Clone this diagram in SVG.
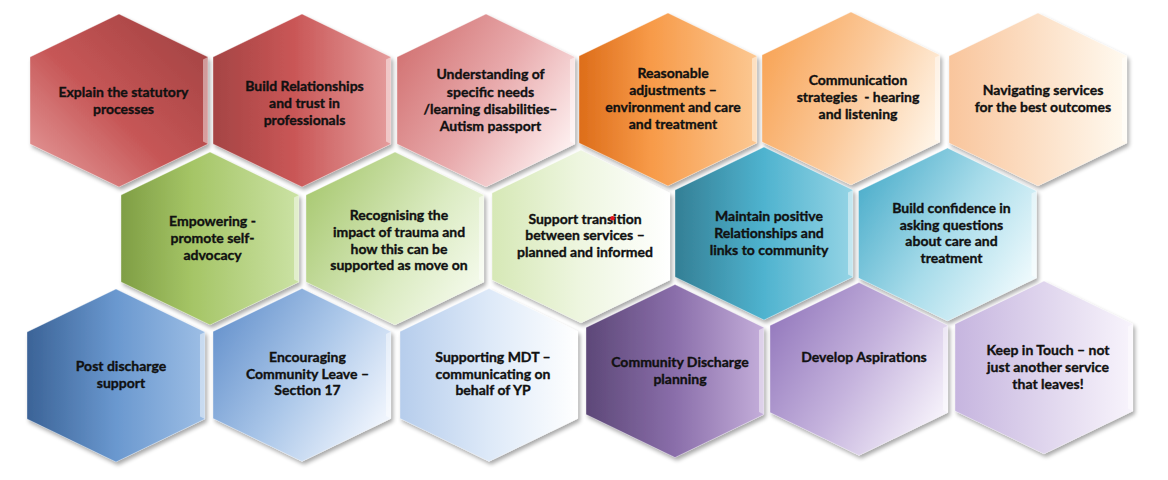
<svg xmlns="http://www.w3.org/2000/svg" xmlns:xlink="http://www.w3.org/1999/xlink" width="1168" height="480" viewBox="0 0 1168 480">
<defs>
<style>
.t{font-family:Lato,"Liberation Sans",sans-serif;font-weight:bold;font-size:14px;fill:#111;stroke:#111;stroke-width:0.35;text-anchor:middle}
.hex{filter:url(#sh)}
.bev{fill:#ffffff;opacity:0.45}
.edge{fill:none;stroke:#ffffff;stroke-opacity:0.35;stroke-width:1}
</style>
<filter id="sh" x="-10%" y="-10%" width="125%" height="125%">
<feGaussianBlur in="SourceAlpha" stdDeviation="2"/>
<feOffset dx="2" dy="3" result="b"/>
<feComponentTransfer><feFuncA type="linear" slope="0.35"/></feComponentTransfer>
<feMerge><feMergeNode/><feMergeNode in="SourceGraphic"/></feMerge>
</filter>
<path id="hx" d="M0,-86.5 L89,-43.5 L89,43.5 L0,86.5 L-89,43.5 L-89,-43.5 Z"/>
<path id="bv" d="M89,-43.5 L89,43.5 L84,41 L84,-41 Z"/>
<linearGradient id="g1" x1="0" y1="1" x2="1" y2="0"><stop offset="0" stop-color="#e8a2a2"/><stop offset="0.45" stop-color="#c65656"/><stop offset="1" stop-color="#9e4040"/></linearGradient>
<linearGradient id="g2" x1="0" y1="0" x2="1" y2="0"><stop offset="0" stop-color="#a54444"/><stop offset="0.45" stop-color="#c95656"/><stop offset="1" stop-color="#e49c9c"/></linearGradient>
<linearGradient id="g3" x1="0" y1="0.2" x2="1" y2="0.8"><stop offset="0" stop-color="#d27272"/><stop offset="0.5" stop-color="#e8aaac"/><stop offset="1" stop-color="#fff4f4"/></linearGradient>
<linearGradient id="g4" x1="0" y1="0" x2="1" y2="0"><stop offset="0" stop-color="#dd6d1a"/><stop offset="0.4" stop-color="#f79a48"/><stop offset="1" stop-color="#fcc892"/></linearGradient>
<linearGradient id="g5" x1="0" y1="0.3" x2="1" y2="0.7"><stop offset="0" stop-color="#f8a65a"/><stop offset="0.5" stop-color="#fbca9c"/><stop offset="1" stop-color="#fff5e8"/></linearGradient>
<linearGradient id="g6" x1="0" y1="0" x2="1" y2="0"><stop offset="0" stop-color="#f9c59c"/><stop offset="1" stop-color="#fffaf0"/></linearGradient>
<linearGradient id="g7" x1="0" y1="0" x2="1" y2="0"><stop offset="0" stop-color="#7f9e45"/><stop offset="0.4" stop-color="#a5c566"/><stop offset="1" stop-color="#cbe2a4"/></linearGradient>
<linearGradient id="g8" x1="0" y1="0.2" x2="1" y2="0.8"><stop offset="0" stop-color="#a9c972"/><stop offset="0.6" stop-color="#dbebc2"/><stop offset="1" stop-color="#f6fbee"/></linearGradient>
<linearGradient id="g9" x1="0" y1="0" x2="1" y2="0"><stop offset="0" stop-color="#d6e8b6"/><stop offset="0.5" stop-color="#eef6e0"/><stop offset="1" stop-color="#ffffff"/></linearGradient>
<linearGradient id="g10" x1="0" y1="0" x2="1" y2="0"><stop offset="0" stop-color="#347f95"/><stop offset="0.5" stop-color="#4fb3cf"/><stop offset="1" stop-color="#95d4e5"/></linearGradient>
<linearGradient id="g11" x1="0" y1="0.2" x2="1" y2="0.8"><stop offset="0" stop-color="#4daecb"/><stop offset="0.5" stop-color="#a8dcea"/><stop offset="1" stop-color="#f4fcfe"/></linearGradient>
<linearGradient id="g12" x1="0" y1="0" x2="1" y2="0"><stop offset="0" stop-color="#3b6397"/><stop offset="0.5" stop-color="#6a98cf"/><stop offset="1" stop-color="#9dbee5"/></linearGradient>
<linearGradient id="g13" x1="0" y1="0.2" x2="1" y2="0.8"><stop offset="0" stop-color="#6793cd"/><stop offset="0.5" stop-color="#abc7e9"/><stop offset="1" stop-color="#f6f9ff"/></linearGradient>
<linearGradient id="g14" x1="0" y1="0" x2="1" y2="0"><stop offset="0" stop-color="#b6cdec"/><stop offset="0.5" stop-color="#dde9f8"/><stop offset="1" stop-color="#ffffff"/></linearGradient>
<linearGradient id="g15" x1="0" y1="0" x2="1" y2="0"><stop offset="0" stop-color="#5d4878"/><stop offset="0.5" stop-color="#8a6eaa"/><stop offset="1" stop-color="#c4aeda"/></linearGradient>
<linearGradient id="g16" x1="0" y1="0.2" x2="1" y2="0.8"><stop offset="0" stop-color="#9479bd"/><stop offset="0.5" stop-color="#c5b3dd"/><stop offset="1" stop-color="#faf7fd"/></linearGradient>
<linearGradient id="g17" x1="0" y1="0" x2="1" y2="0"><stop offset="0" stop-color="#c6b5df"/><stop offset="0.6" stop-color="#e4dbf0"/><stop offset="1" stop-color="#f8f4fc"/></linearGradient>
</defs>
<rect width="1168" height="480" fill="#ffffff"/>

<g id="n1"><g transform="translate(119,100.5)"><use class="hex" xlink:href="#hx" fill="url(#g1)"/><use xlink:href="#hx" class="edge"/><use xlink:href="#bv" class="bev"/></g>
<text class="t"><tspan x="123.5" y="97">Explain the statutory</tspan><tspan x="123.5" y="114">processes</tspan></text></g>

<g id="n2"><g transform="translate(302,100.5)"><use class="hex" xlink:href="#hx" fill="url(#g2)"/><use xlink:href="#hx" class="edge"/><use xlink:href="#bv" class="bev"/></g>
<text class="t"><tspan x="304.5" y="91">Build Relationships</tspan><tspan x="304.5" y="108">and trust in</tspan><tspan x="304.5" y="125">professionals</tspan></text></g>

<g id="n3"><g transform="translate(486,100.5)"><use class="hex" xlink:href="#hx" fill="url(#g3)"/><use xlink:href="#hx" class="edge"/><use xlink:href="#bv" class="bev"/></g>
<text class="t"><tspan x="490.5" y="79">Understanding of</tspan><tspan x="490.5" y="96.5">specific needs</tspan><tspan x="490.5" y="113.5">/learning disabilities–</tspan><tspan x="490.5" y="130.5">Autism passport</tspan></text></g>

<g id="n4"><g transform="translate(668,99.5)"><use class="hex" xlink:href="#hx" fill="url(#g4)"/><use xlink:href="#hx" class="edge"/><use xlink:href="#bv" class="bev"/></g>
<text class="t"><tspan x="673" y="77.5">Reasonable</tspan><tspan x="673" y="94.5">adjustments –</tspan><tspan x="673" y="111.5">environment and care</tspan><tspan x="673" y="128.5">and treatment</tspan></text></g>

<g id="n5"><g transform="translate(851,98.5)"><use class="hex" xlink:href="#hx" fill="url(#g5)"/><use xlink:href="#hx" class="edge"/><use xlink:href="#bv" class="bev"/></g>
<text class="t" xml:space="preserve"><tspan x="858" y="85">Communication</tspan><tspan x="858" y="101.5">strategies  - hearing</tspan><tspan x="858" y="118.5">and listening</tspan></text></g>

<g id="n6"><g transform="translate(1038,99.5)"><use class="hex" xlink:href="#hx" fill="url(#g6)"/><use xlink:href="#hx" class="edge"/><use xlink:href="#bv" class="bev"/></g>
<text class="t"><tspan x="1043" y="95">Navigating services</tspan><tspan x="1043" y="111.5">for the best outcomes</tspan></text></g>

<g id="n7"><g transform="translate(210,238.5)"><use class="hex" xlink:href="#hx" fill="url(#g7)"/><use xlink:href="#hx" class="edge"/><use xlink:href="#bv" class="bev"/></g>
<text class="t"><tspan x="212.5" y="225.5">Empowering -</tspan><tspan x="212.5" y="242.5">promote self-</tspan><tspan x="212.5" y="259.5">advocacy</tspan></text></g>

<g id="n8"><g transform="translate(395,238.5)"><use class="hex" xlink:href="#hx" fill="url(#g8)"/><use xlink:href="#hx" class="edge"/><use xlink:href="#bv" class="bev"/></g>
<text class="t"><tspan x="399" y="220">Recognising the</tspan><tspan x="399" y="236.5">impact of trauma and</tspan><tspan x="399" y="253.5">how this can be</tspan><tspan x="399" y="270">supported as move on</tspan></text></g>

<g id="n9"><g transform="translate(581,236.5)"><use class="hex" xlink:href="#hx" fill="url(#g9)"/><use xlink:href="#hx" class="edge"/><use xlink:href="#bv" class="bev"/></g>
<text class="t"><tspan x="585" y="223.5">Support transition</tspan><tspan x="585" y="240">between services –</tspan><tspan x="585" y="256.5">planned and informed</tspan></text>
<circle cx="612.5" cy="218.3" r="2.2" fill="#e8141c"/></g>

<g id="n10"><g transform="translate(764,233.5)"><use class="hex" xlink:href="#hx" fill="url(#g10)"/><use xlink:href="#hx" class="edge"/><use xlink:href="#bv" class="bev"/></g>
<text class="t"><tspan x="769" y="221">Maintain positive</tspan><tspan x="769" y="237.5">Relationships and</tspan><tspan x="769" y="254.5">links to community</tspan></text></g>

<g id="n11"><g transform="translate(947.5,234.5)"><use class="hex" xlink:href="#hx" fill="url(#g11)"/><use xlink:href="#hx" class="edge"/><use xlink:href="#bv" class="bev"/></g>
<text class="t"><tspan x="951.5" y="212.5">Build confidence in</tspan><tspan x="951.5" y="229.5">asking questions</tspan><tspan x="951.5" y="246">about care and</tspan><tspan x="951.5" y="262.5">treatment</tspan></text></g>

<g id="n12"><g transform="translate(116,375.5)"><use class="hex" xlink:href="#hx" fill="url(#g12)"/><use xlink:href="#hx" class="edge"/><use xlink:href="#bv" class="bev"/></g>
<text class="t"><tspan x="121" y="370.5">Post discharge</tspan><tspan x="121" y="387.5">support</tspan></text></g>

<g id="n13"><g transform="translate(302,375)"><use class="hex" xlink:href="#hx" fill="url(#g13)"/><use xlink:href="#hx" class="edge"/><use xlink:href="#bv" class="bev"/></g>
<text class="t"><tspan x="307.5" y="361.5">Encouraging</tspan><tspan x="307.5" y="378.5">Community Leave –</tspan><tspan x="307.5" y="395">Section 17</tspan></text></g>

<g id="n14"><g transform="translate(489,375)"><use class="hex" xlink:href="#hx" fill="url(#g14)"/><use xlink:href="#hx" class="edge"/><use xlink:href="#bv" class="bev"/></g>
<text class="t"><tspan x="493" y="361.5">Supporting MDT –</tspan><tspan x="493" y="378.5">communicating on</tspan><tspan x="493" y="395">behalf of YP</tspan></text></g>

<g id="n15"><g transform="translate(675,371)"><use class="hex" xlink:href="#hx" fill="url(#g15)"/><use xlink:href="#hx" class="edge"/><use xlink:href="#bv" class="bev"/></g>
<text class="t"><tspan x="680" y="366.5">Community Discharge</tspan><tspan x="680" y="383.5">planning</tspan></text></g>

<g id="n16"><g transform="translate(859,369)"><use class="hex" xlink:href="#hx" fill="url(#g16)"/><use xlink:href="#hx" class="edge"/><use xlink:href="#bv" class="bev"/></g>
<text class="t"><tspan x="864" y="361.5">Develop Aspirations</tspan></text></g>

<g id="n17"><g transform="translate(1044,367.5)"><use class="hex" xlink:href="#hx" fill="url(#g17)"/><use xlink:href="#hx" class="edge"/><use xlink:href="#bv" class="bev"/></g>
<text class="t"><tspan x="1048" y="355">Keep in Touch – not</tspan><tspan x="1048" y="371.5">just another service</tspan><tspan x="1048" y="388.5">that leaves!</tspan></text></g>

<g id="connectors"/>
</svg>
